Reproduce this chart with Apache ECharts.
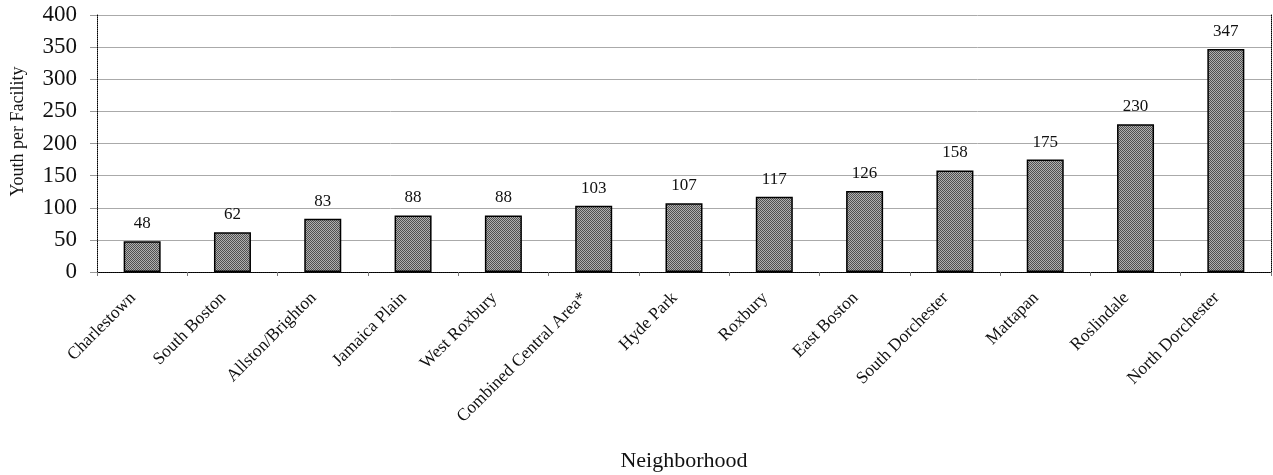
<!DOCTYPE html>
<html><head><meta charset="utf-8">
<script src="https://cdn.jsdelivr.net/npm/echarts@6/dist/echarts.min.js"></script>
<style>html,body{margin:0;padding:0;background:#fff}#c{width:1273px;height:475px}</style>
</head><body><div id="c"></div>
<script>
const categories = ['Charlestown','South Boston','Allston/Brighton','Jamaica Plain','West Roxbury','Combined Central Area*','Hyde Park','Roxbury','East Boston','South Dorchester','Mattapan','Roslindale','North Dorchester'];
const values = [48,62,83,88,88,103,107,117,126,158,175,230,347];
const yTicks = [0,50,100,150,200,250,300,350,400];

const cv = document.createElement('canvas');
cv.width = 2; cv.height = 2;
const cx = cv.getContext('2d');
cx.fillStyle = '#b0b0b0'; cx.fillRect(0,0,2,2);
cx.fillStyle = '#505050'; cx.fillRect(0,0,1,1); cx.fillRect(1,1,1,1);

const font = '"Liberation Serif", "DejaVu Serif", serif';
const chart = echarts.init(document.getElementById('c'));
chart.setOption({
  animation: false,
  grid: {left: 97, right: 2, top: 15, bottom: 203, containLabel: false, outerBoundsMode: 'none'},
  xAxis: [{
    type: 'category', data: categories, boundaryGap: true,
    axisLine: {lineStyle: {color: '#000', type: 'dotted', width: 1}},
    axisTick: {show: true, length: 4, lineStyle: {color: '#777'}},
    axisLabel: {rotate: 45, fontFamily: font, fontSize: 17.5, color: '#111', margin: 14, interval: 0,
      padding: [0, 13, 0, 0]},
    name: 'Neighborhood', nameLocation: 'middle', nameGap: 178,
    nameTextStyle: {fontFamily: font, fontSize: 22, color: '#111'}
  },{
    type: 'category', data: categories, position: 'top',
    axisLine: {lineStyle: {color: '#000', type: 'dotted', width: 1}},
    axisTick: {show: false}, axisLabel: {show: false}
  }],
  yAxis: [{
    type: 'value', min: 0, max: 400, interval: 50,
    axisLine: {show: true, lineStyle: {color: '#000', type: 'dotted', width: 1}},
    axisTick: {show: true, length: 7, lineStyle: {color: '#999'}},
    splitLine: {show: true, lineStyle: {color: '#aaa', width: 1}},
    axisLabel: {fontFamily: font, fontSize: 23, color: '#111', margin: 20,
      customValues: yTicks},
    name: 'Youth per Facility', nameLocation: 'middle', nameGap: 70,
    nameTextStyle: {fontFamily: font, fontSize: 18, color: '#111', padding: [0, 0, 0, 24]}
  },{
    type: 'value', min: 0, max: 400, interval: 50, position: 'right',
    axisLine: {show: true, lineStyle: {color: '#000', type: 'dotted', width: 1}},
    axisTick: {show: false}, axisLabel: {show: false}, splitLine: {show: false}
  }],
  series: [{
    type: 'bar', data: values, barWidth: 37,
    itemStyle: {color: {image: cv, repeat: 'repeat'}, borderColor: '#000', borderWidth: 1.5},
    label: {show: true, position: 'top', distance: 9, fontFamily: font, fontSize: 17, color: '#111'}
  }]
});
</script></body></html>
